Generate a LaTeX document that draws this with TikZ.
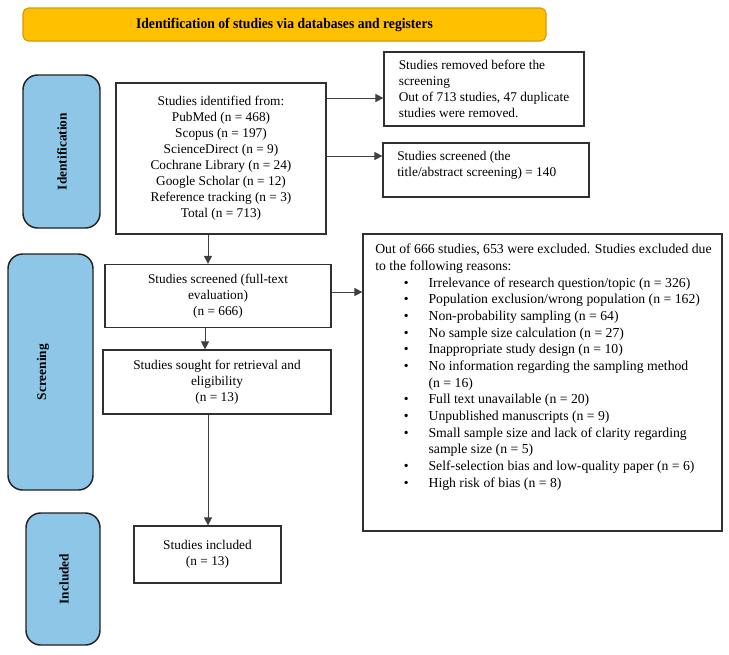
\documentclass[tikz,border=0pt]{standalone}
\usepackage{fontspec}
\usepackage{graphicx}
\setmainfont{Liberation Serif}
\usetikzlibrary{arrows.meta}
\definecolor{bannerfill}{HTML}{FFC000}
\definecolor{bannerline}{HTML}{D49A00}
\definecolor{phasefill}{HTML}{8EC6E8}
\definecolor{phaseline}{HTML}{222222}
\definecolor{boxline}{HTML}{303030}
\definecolor{arrowline}{HTML}{404040}
\tikzset{
  x=0.75pt, y=-0.75pt,
  banner/.style={draw=bannerline, fill=bannerfill, line width=0.8pt, rounded corners=4pt, inner sep=0pt},
  phase/.style={draw=phaseline, fill=phasefill, line width=1.1pt, rounded corners=11pt, inner sep=0pt},
  phaselabel/.style={rotate=90, font=\fontsize{10}{12}\selectfont\bfseries, inner sep=0pt},
  stepbox/.style={draw=boxline, line width=0.9pt, inner sep=0pt, font=\fontsize{10}{12}\selectfont},
  plaintext/.style={inner sep=0pt, align=left, font=\fontsize{10}{12}\selectfont},
  flow/.style={draw=arrowline, line width=0.7pt, -{Triangle[length=6pt,width=6pt]}},
}
\begin{document}
\begin{tikzpicture}
\useasboundingbox (0,0) rectangle (729,654);
% banner
\node[banner, minimum width=392.25pt, minimum height=24.75pt] (banner) at (284.5,24.5)
  {\scalebox{0.93}[1]{\fontsize{11}{13}\selectfont\bfseries Identification of studies via databases and registers}};
% phase boxes
\node[phase, minimum width=57.75pt, minimum height=114.75pt] (idphase) at (61.5,151.5) {};
\node[phaselabel] (idlabel) at (62,151.5) {Identification};
\node[phase, minimum width=63.75pt, minimum height=177pt] (scrphase) at (50.5,372) {};
\node[phaselabel] (scrlabel) at (43,372) {Screening};
\node[phase, minimum width=55.5pt, minimum height=99pt] (incphase) at (63,579) {};
\node[phaselabel] (inclabel) at (64,579) {Included};
% flow boxes
\node[stepbox, align=center, minimum width=157.5pt, minimum height=113.25pt] (ident) at (221,158.5)
  {Studies identified from:\\ PubMed (n = 468)\\ Scopus (n = 197)\\ ScienceDirect (n = 9)\\ Cochrane Library (n = 24)\\ Google Scholar (n = 12)\\ Reference tracking (n = 3)\\ Total (n = 713)};
\node[stepbox, align=left, minimum width=150pt, minimum height=55.5pt] (removed) at (484,89)
  {Studies removed before the\\ screening\\ Out of 713 studies, 47 duplicate\\ studies were removed.};
\node[stepbox, minimum width=154.5pt, minimum height=40.5pt] (screened) at (486,170) {};
\node[plaintext, anchor=north west] (screenedtext) at (397,151)
  {Studies screened (the\\ title/abstract screening) = 140};
\node[stepbox, align=center, minimum width=169.5pt, minimum height=47.25pt] (fulltext) at (218,296)
  {Studies screened (full-text\\ evaluation)\\ (n = 666)};
\node[stepbox, align=center, minimum width=171pt, minimum height=48pt] (sought) at (217,382)
  {Studies sought for retrieval and\\ eligibility\\ (n = 13)};
\node[stepbox, align=center, minimum width=110.25pt, minimum height=42.75pt] (included) at (207.5,554.5)
  {Studies included\\ (n = 13)};
\node[stepbox, minimum width=269.25pt, minimum height=222.75pt] (excluded) at (542.5,382.5) {};
\node[plaintext, anchor=north west, font=\fontsize{10.3}{12.5}\selectfont] (excludedtext) at (375,244)
  {Out of 666 studies, 653 were excluded. Studies excluded due\\
   to the following reasons:\\
   \hspace*{21.5pt}\makebox[18.5pt][l]{\textbullet}Irrelevance of research question/topic (n = 326)\\
   \hspace*{21.5pt}\makebox[18.5pt][l]{\textbullet}Population exclusion/wrong population (n = 162)\\
   \hspace*{21.5pt}\makebox[18.5pt][l]{\textbullet}Non-probability sampling (n = 64)\\
   \hspace*{21.5pt}\makebox[18.5pt][l]{\textbullet}No sample size calculation (n = 27)\\
   \hspace*{21.5pt}\makebox[18.5pt][l]{\textbullet}Inappropriate study design (n = 10)\\
   \hspace*{21.5pt}\makebox[18.5pt][l]{\textbullet}No information regarding the sampling method\\
   \hspace*{40pt}(n = 16)\\
   \hspace*{21.5pt}\makebox[18.5pt][l]{\textbullet}Full text unavailable (n = 20)\\
   \hspace*{21.5pt}\makebox[18.5pt][l]{\textbullet}Unpublished manuscripts (n = 9)\\
   \hspace*{21.5pt}\makebox[18.5pt][l]{\textbullet}Small sample size and lack of clarity regarding\\
   \hspace*{40pt}sample size (n = 5)\\
   \hspace*{21.5pt}\makebox[18.5pt][l]{\textbullet}Self-selection bias and low-quality paper (n = 6)\\
   \hspace*{21.5pt}\makebox[18.5pt][l]{\textbullet}High risk of bias (n = 8)};
% connectors
\draw[flow] (ident.east |- 0,98) -- (removed.west |- 0,98);
\draw[flow] (ident.east |- 0,156) -- (screened.west |- 0,156);
\draw[flow] (ident.south -| 208,0) -- (fulltext.north -| 208,0);
\draw[flow] (fulltext.south -| 205,0) -- (sought.north -| 205,0);
\draw[flow] (fulltext.east |- 0,292) -- (excluded.west |- 0,292);
\draw[flow] (sought.south -| 208,0) -- (included.north -| 208,0);
\end{tikzpicture}
\end{document}
